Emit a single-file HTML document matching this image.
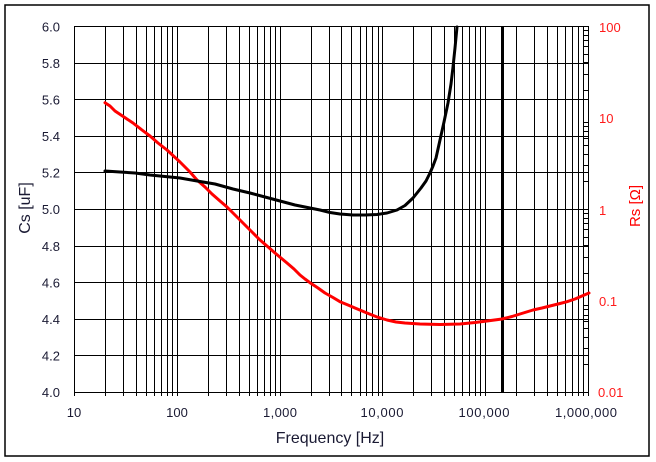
<!DOCTYPE html>
<html>
<head>
<meta charset="utf-8">
<style>
html,body{margin:0;padding:0;background:#fff;}
svg{display:block;}
text{font-family:"Liberation Sans",Arial,sans-serif;}
</style>
</head>
<body>
<svg width="656" height="462" viewBox="0 0 656 462" xmlns="http://www.w3.org/2000/svg">
<rect x="0" y="0" width="656" height="462" fill="#fff"/>
<rect x="5" y="5" width="644" height="451" fill="none" stroke="#000" stroke-width="1.5"/>
<path fill="none" stroke="#000" stroke-width="1" d="M74 26.5H588M74 63.5H588M74 99.5H588M74 136.5H588M74 172.5H588M74 209.5H588M74 246.5H588M74 282.5H588M74 319.5H588M74 355.5H588M74 392.5H589"/>
<path fill="none" stroke="#000" stroke-width="1" d="M74.5 26V396M105.5 26V396M123.5 26V396M136.5 26V396M146.5 26V396M154.5 26V396M161.5 26V396M167.5 26V396M172.5 26V396M177.5 26V396M208.5 26V396M226.5 26V396M239.5 26V396M249.5 26V396M257.5 26V396M264.5 26V396M270.5 26V396M275.5 26V396M280.5 26V396M311.5 26V396M329.5 26V396M341.5 26V396M351.5 26V396M360.5 26V396M366.5 26V396M372.5 26V396M378.5 26V396M382.5 26V396M413.5 26V396M431.5 26V396M444.5 26V396M454.5 26V396M462.5 26V396M469.5 26V396M475.5 26V396M480.5 26V396M485.5 26V396M516.5 26V396M534.5 26V396M547.5 26V396M557.5 26V396M565.5 26V396M572.5 26V396M578.5 26V396M583.5 26V396M588.5 26V396"/>
<path fill="none" stroke="#000" stroke-width="1" d="M584 364.5H588M584 348.5H588M584 337.5H588M584 328.5H588M584 321.5H588M584 315.5H588M584 309.5H588M584 305.5H588M584 273.5H588M584 257.5H588M584 245.5H588M584 237.5H588M584 229.5H588M584 223.5H588M584 218.5H588M584 213.5H588M584 181.5H588M584 165.5H588M584 154.5H588M584 145.5H588M584 138.5H588M584 131.5H588M584 126.5H588M584 122.5H588M584 90.5H588M584 74.5H588M584 62.5H588M584 54.5H588M584 46.5H588M584 40.5H588M584 35.5H588M584 30.5H588"/>
<rect x="501" y="26" width="3" height="367" fill="#000"/>
<path fill="none" stroke="#ff0000" stroke-width="3" stroke-linejoin="round" stroke-linecap="round" d="M105 102.7L110 106L115 111L124 117L133 123L142 130L150 136L158 143L167 150L180 162L190 172L197 180L205 187L212 194L220 201L227 207L236 216L245 225L252 232L260 240L267 246L275 253L281 258L287 263L294 269L300 275L305 279L310 282.7L318 288L325 293L333 297.5L340 301.7L348 305L355 308L361 310.5L367 313L377 317L387 320L396 322L405 323L420 324L440 324.5L460 324L475 322.5L487 321L502 319L512 316.5L520 314L533 310L542 308L550 306L560 303.5L567 301.7L575 299L582 296L589 293"/>
<path fill="none" stroke="#000" stroke-width="3" stroke-linejoin="round" stroke-linecap="round" d="M105 171L120 172L135 173L150 175L165 176.5L180 178L200 181.5L215 184L233 189L250 193L265 197L280 201L295 205L305 207L320 210L330 212.5L340 214L353 215L365 215L377 214.5L387 213L397 210L405 205.5L413 198L421 188L426 181L430 173L433 166L436 158L440 140L444 122L448 103L451 84L453 67L455 48L457 27"/>
<g font-size="13" fill="#1a1a33" text-anchor="end">
<text x="60" y="31.5">6.0</text>
<text x="60" y="68">5.8</text>
<text x="60" y="104.5">5.6</text>
<text x="60" y="141">5.4</text>
<text x="60" y="177.5">5.2</text>
<text x="60" y="214">5.0</text>
<text x="60" y="251">4.8</text>
<text x="60" y="287.5">4.6</text>
<text x="60" y="324">4.4</text>
<text x="60" y="360.5">4.2</text>
<text x="60" y="397">4.0</text>
</g>
<g font-size="13" fill="#1a1a33" text-anchor="middle">
<text x="74" y="417">10</text>
<text x="177" y="417">100</text>
<text x="280" y="417" textLength="34">1,000</text>
<text x="382" y="417" textLength="43">10,000</text>
<text x="484" y="417" textLength="51">100,000</text>
<text x="586" y="417" textLength="62">1,000,000</text>
</g>
<g font-size="13" fill="#ff1a1a">
<text x="599" y="32">100</text>
<text x="599" y="123">10</text>
<text x="599" y="215">1</text>
<text x="599" y="306">0.1</text>
<text x="598" y="397">0.01</text>
</g>
<text x="330" y="443" font-size="16" fill="#1a1a33" text-anchor="middle">Frequency [Hz]</text>
<text transform="translate(30,208) rotate(-90)" font-size="16" fill="#1a1a33" text-anchor="middle">Cs [uF]</text>
<text transform="translate(640,206) rotate(-90)" font-size="15" fill="#ff0000" text-anchor="middle">Rs [Ω]</text>
</svg>
</body>
</html>
